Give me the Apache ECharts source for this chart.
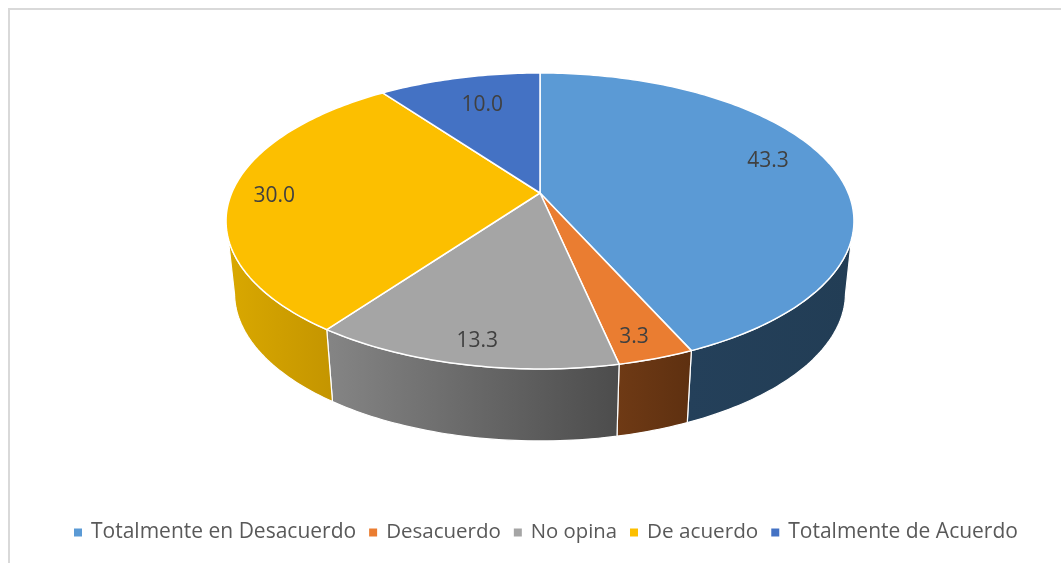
<!DOCTYPE html>
<html>
<head>
<meta charset="utf-8">
<style>html,body{margin:0;padding:0;background:#fff}#c{width:1061px;height:563px}</style>
<script src="https://cdn.jsdelivr.net/npm/echarts@6/dist/echarts.min.js"></script>
</head>
<body>
<div id="c"></div>
<script>
const categories = ['Totalmente en Desacuerdo', 'Desacuerdo', 'No opina', 'De acuerdo', 'Totalmente de Acuerdo'];
const values = [43.3, 3.3, 13.3, 30.0, 10.0];
const topColors = ['#5b9ad5', '#ea7d31', '#a5a5a5', '#fcbf00', '#4472c4'];
const wallColors = [['#24405a', '#223d55'], ['#6f3a15', '#5e3010'], ['#858585', '#4c4c4c'], ['#d9a800', '#c49500'], ['#2a4375', '#2a4375']];
const labelNudges = [[-6, -9], [5, 17], [-3, 17], [-19, 3], [9, 7]];
const legendSizes = [21, 20.5, 20.3, 20.7, 21];

// perspective disc projection
const CX = 540, CY = 193, A = 308.3, B = 142.7, K = 0.189;
const DEPTH = 72, BOTTOM_SCALE = 0.973;
const WALL_FROM = 108, WALL_TO = 252.5; // silhouette angles, upper rim
const LOW_FROM = 101.3, LOW_TO = 258.7; // silhouette angles, lower rim
function project(deg, r) {
  const t = deg * Math.PI / 180, u = r * Math.sin(t), v = r * Math.cos(t), w = 1 + K * v;
  return [CX + A * u / w, CY - B * v / w];
}
function lower(p) { return [CX + (p[0] - CX) * BOTTOM_SCALE, p[1] + DEPTH]; }
function arc(a, b) {
  const pts = [], n = Math.max(2, Math.ceil(Math.abs(b - a)));
  for (let i = 0; i <= n; i++) pts.push(project(a + (b - a) * i / n, 1));
  return pts;
}
const total = values.reduce((s, v) => s + v, 0);
let acc = 0;
const spans = values.map(v => { const s = acc; acc += v; return [s / total * 360, acc / total * 360]; });

function makeRender(i) {
  return function (params, api) {
    const a = spans[i][0], b = spans[i][1], children = [];
    const wa = Math.max(a, WALL_FROM), wb = Math.min(b, WALL_TO);
    if (wb > wa) {
      const la = Math.max(a, LOW_FROM), lb = Math.min(b, LOW_TO);
      children.push({
        type: 'polygon', z2: 1,
        shape: { points: arc(wa, wb).concat(arc(lb, la).map(lower)) },
        style: {
          fill: new echarts.graphic.LinearGradient(0, 0, 1, 0, [
            { offset: 0, color: wallColors[i][0] }, { offset: 1, color: wallColors[i][1] }]),
          stroke: '#fff', lineWidth: 1.2, lineJoin: 'round'
        }
      });
    }
    children.push({
      type: 'polygon', z2: 2,
      shape: { points: [[CX, CY]].concat(arc(a, b)) },
      style: { fill: api.visual('color'), stroke: '#fff', lineWidth: 1.5, lineJoin: 'round' }
    });
    const mid = project((a + b) / 2, 0.8);
    children.push({
      type: 'text', z2: 3,
      x: mid[0] + labelNudges[i][0], y: mid[1] + labelNudges[i][1],
      style: {
        text: api.value(0).toFixed(1), fill: '#404040',
        font: '21px "Open Sans"', align: 'center', verticalAlign: 'middle'
      }
    });
    return { type: 'group', children };
  };
}

const chart = echarts.init(document.getElementById('c'), null, { renderer: 'canvas' });
chart.setOption({
  animation: false,
  backgroundColor: '#ffffff',
  legend: {
    show: true, left: 74, top: 522,
    itemWidth: 8, itemHeight: 8, itemGap: 13,
    icon: 'rect',
    padding: 0,
    selectedMode: false,
    data: categories.map((name, i) => ({
      name,
      textStyle: { color: '#595959', fontSize: legendSizes[i], fontFamily: 'Open Sans', padding: [0, 0, 0, 4] }
    })),
    textStyle: { color: '#595959', fontSize: 21, fontFamily: 'Open Sans', padding: [0, 0, 0, 4] }
  },
  graphic: [{
    type: 'polyline', silent: true,
    shape: { points: [[9, 600], [9, 9], [1100, 9]] },
    style: { stroke: '#d9d9d9', lineWidth: 2, fill: null }
  }],
  series: categories.map((name, i) => ({
    type: 'custom', name,
    coordinateSystem: 'none',
    silent: true,
    itemStyle: { color: topColors[i] },
    renderItem: makeRender(i),
    data: [[values[i]]]
  }))
});
</script>
</body>
</html>
